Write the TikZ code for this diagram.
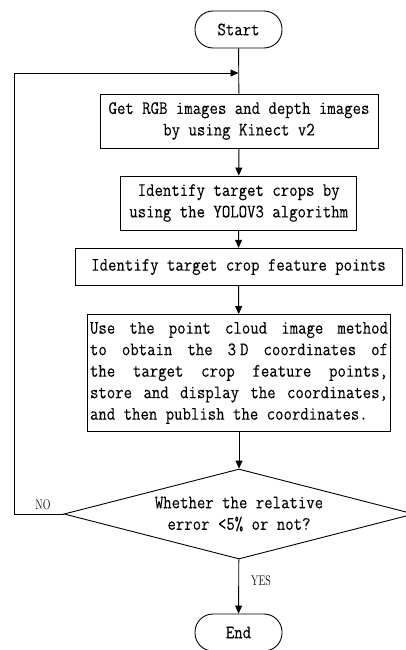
\documentclass[tikz,border=0pt]{standalone}
\usepackage{fontspec}
\usepackage{graphicx}
\newfontfamily\simfont[FakeStretch=0.86,RawFeature={embolden=0.04}]{Latin Modern Mono}
\usetikzlibrary{arrows.meta,shapes.geometric}
\newcommand\jline[1]{\makebox[298pt][s]{\spaceskip=8.5pt plus 1fil\relax #1}}
\newcommand\narrowlbl[1]{\scalebox{0.72}[1]{#1}}
\tikzset{
  every node/.style={font=\simfont\fontsize{19}{21.5}\selectfont},
  line/.style={line width=0.9pt},
  arr/.style={line width=0.9pt,-{Triangle[length=8pt,width=7pt]}},
  stadium/.style={draw,line width=0.9pt,rectangle,rounded corners=18pt,minimum width=87pt,minimum height=37pt,inner sep=0pt},
  procbox/.style={draw,line width=0.9pt,rectangle,inner sep=0pt,align=center},
  decision/.style={draw,line width=0.9pt,diamond,aspect=3.9,minimum width=350pt,minimum height=90pt,inner sep=0pt,align=center},
  lbl/.style={font=\rmfamily\fontsize{14}{16}\selectfont,inner sep=0pt}
}
\begin{document}
\begin{tikzpicture}[x=1pt,y=-1pt]
\useasboundingbox (0,0) rectangle (406,650);
\node[stadium] (start) at (238.5,29.5) {Start};
\node[procbox,minimum width=278pt,minimum height=54pt] (b1) at (239,121)
  {Get RGB images and depth images\\by using Kinect v2};
\node[procbox,minimum width=236pt,minimum height=54pt] (b2) at (238.7,203)
  {Identify target crops by\\using the YOLOV3 algorithm};
\node[procbox,minimum width=327pt,minimum height=37.5pt] (b3) at (238.5,267)
  {Identify target crop feature points};
\node[procbox,minimum width=303pt,minimum height=117pt,align=left] (b4) at (239,373)
  {\jline{Use the point cloud image method}\\
   \jline{to obtain the 3\kern4pt D coordinates of}\\
   \jline{the target crop feature points,}\\
   \jline{store and display the coordinates,}\\
   \makebox[298pt][l]{and then publish the coordinates.}};
\node[decision] (d) at (239,514) {Whether the relative\\error <5\% or not?};
\node[stadium] (end) at (238.5,632.5) {End};
\coordinate (lp1) at (14,514);
\coordinate (lp2) at (14,73);
\coordinate (lp3) at (start.south |- lp2);
\draw[line] (start) -- (b1);
\draw[arr] (b1) -- (b2);
\draw[arr] (b2) -- (b3);
\draw[arr] (b3) -- (b4);
\draw[arr] (b4) -- (d);
\draw[arr] (d) -- (end) node[lbl,pos=0.4,right=12pt] {\narrowlbl{YES}};
\draw[arr] (d.west) -- (lp1) -- (lp2) -- (lp3);
\node[lbl] (no) at (43,505) {\narrowlbl{NO}};
\end{tikzpicture}
\end{document}
